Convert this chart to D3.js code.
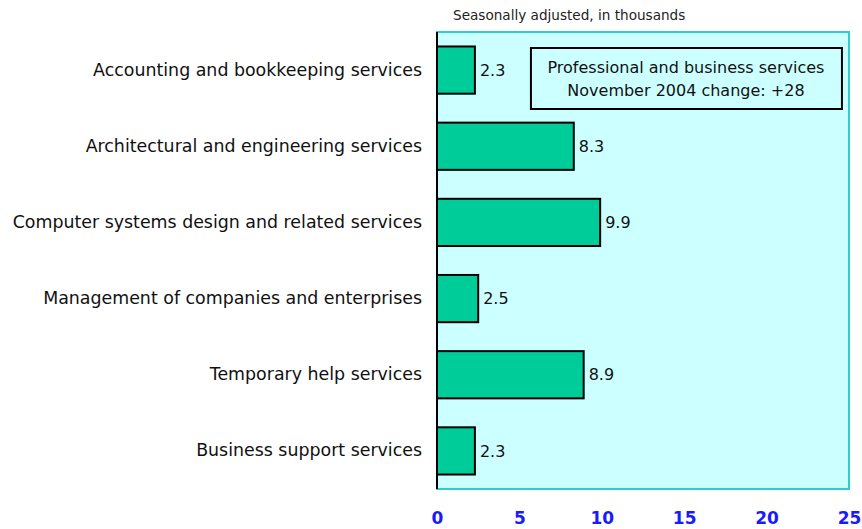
<!DOCTYPE html>
<meta charset="utf-8">
<style>
body { margin: 0; background: #fff; }
text { font-family: "DejaVu Sans", sans-serif; }
.cat .tick text { font-size: 17.4px; font-weight: normal; fill: #111; }
.val { font-size: 16px; fill: #111; }
.xax .tick text { font-size: 17px; font-weight: bold; fill: #1a1aff; }
</style>
<body>
<script src="https://d3js.org/d3.v7.min.js"></script>
<script>

// data
var categories = [
  "Accounting and bookkeeping services",
  "Architectural and engineering services",
  "Computer systems design and related services",
  "Management of companies and enterprises",
  "Temporary help services",
  "Business support services"
];
var values = [2.3, 8.3, 9.9, 2.5, 8.9, 2.3];
var xTicks = [0, 5, 10, 15, 20, 25];
var noteLines = ["Professional and business services", "November 2004 change: +28"];

var W = 862, H = 529;
var margin = {top: 32, right: 13, bottom: 40, left: 437};
var width = W - margin.left - margin.right,
    height = H - margin.top - margin.bottom;

var svg = d3.select("body").append("svg")
  .attr("width", W)
  .attr("height", H);

var g = svg.append("g")
  .attr("transform", "translate(" + margin.left + "," + margin.top + ")");

var x = d3.scaleLinear().domain([0, 25]).range([0, width]);
var y = d3.scaleBand().domain(categories).range([0, height]).paddingInner(0.38).paddingOuter(0.19);

// plot background
g.append("rect")
  .attr("width", width)
  .attr("height", height)
  .attr("fill", "#ccffff")
  .attr("stroke", "#33cccc")
  .attr("stroke-width", 2);

// subtitle
svg.append("text")
  .attr("x", 453)
  .attr("y", 20)
  .style("font-size", "13.6px")
  .style("fill", "#222")
  .text("Seasonally adjusted, in thousands");

// bars
g.selectAll(".bar")
  .data(values)
  .enter().append("rect")
    .attr("class", "bar")
    .attr("x", 0)
    .attr("y", function(d, i) { return y(categories[i]); })
    .attr("width", function(d) { return x(d); })
    .attr("height", y.bandwidth())
    .attr("fill", "#00cc99")
    .attr("stroke", "#000")
    .attr("stroke-width", 2);

// value labels
g.selectAll(".val")
  .data(values)
  .enter().append("text")
    .attr("class", "val")
    .attr("x", function(d) { return x(d) + 5; })
    .attr("y", function(d, i) { return y(categories[i]) + y.bandwidth() / 2; })
    .attr("dy", ".35em")
    .text(function(d) { return d.toFixed(1); });

// category axis (labels only)
var yAxis = g.append("g")
  .attr("class", "cat")
  .call(d3.axisLeft(y).tickSize(0).tickPadding(15));
yAxis.select(".domain").remove();

// left axis line
g.append("line")
  .attr("x1", 0).attr("x2", 0)
  .attr("y1", 0).attr("y2", height)
  .attr("stroke", "#000")
  .attr("stroke-width", 2);

// x axis
var xAxis = g.append("g")
  .attr("class", "xax")
  .attr("transform", "translate(0," + height + ")")
  .call(d3.axisBottom(x).tickValues(xTicks).tickSize(0).tickPadding(23));
xAxis.select(".domain").remove();

// note box
var note = g.append("g").attr("transform", "translate(" + x(5.7) + ",16)");
note.append("rect")
  .attr("width", 311)
  .attr("height", 61)
  .attr("fill", "#ccffff")
  .attr("stroke", "#000")
  .attr("stroke-width", 2);
note.selectAll("text")
  .data(noteLines)
  .enter().append("text")
    .attr("x", 155)
    .attr("y", function(d, i) { return 25 + i * 23; })
    .attr("text-anchor", "middle")
    .style("font-size", "16px")
    .style("fill", "#111")
    .text(function(d) { return d; });

</script>
</body>
